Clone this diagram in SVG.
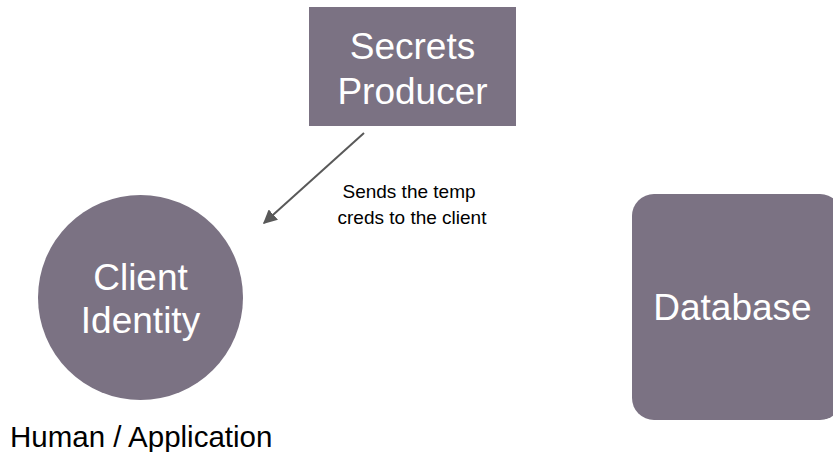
<svg xmlns="http://www.w3.org/2000/svg" width="833" height="452" viewBox="0 0 833 452">
<defs>
<style>
.node{fill:#7b7283;}
.big{font-family:"Liberation Sans",Arial,sans-serif;font-size:37px;fill:#ffffff;text-anchor:middle;}
.small{font-family:"Liberation Sans",Arial,sans-serif;font-size:19px;fill:#000000;text-anchor:middle;}
.label{font-family:"Liberation Sans",Arial,sans-serif;font-size:29.5px;fill:#000000;}
.conn{stroke:#595959;stroke-width:2;fill:none;}
</style>
<marker id="arrow" viewBox="0 0 10 10" refX="9" refY="5" markerWidth="7" markerHeight="7" markerUnits="strokeWidth" orient="auto">
<path d="M0,0 L10,5 L0,10 z" fill="#595959"/>
</marker>
</defs>
<rect width="833" height="452" fill="#ffffff"/>
<g id="secrets-producer">
<rect class="node" x="309" y="7" width="207" height="119"/>
<text class="big" x="412.5" y="59">Secrets</text>
<text class="big" x="412.5" y="104">Producer</text>
</g>
<g id="client-identity">
<circle class="node" cx="140.5" cy="297.5" r="102.5"/>
<text class="big" x="140.5" y="290">Client</text>
<text class="big" x="140.5" y="333">Identity</text>
<text class="label" x="10" y="447">Human / Application</text>
</g>
<g id="database">
<rect class="node" x="632" y="194" width="210" height="226" rx="22" ry="22"/>
<text class="big" x="732.5" y="320">Database</text>
</g>
<g id="connectors">
<line class="conn" x1="364" y1="133" x2="264" y2="223" marker-end="url(#arrow)"/>
<text class="small" x="409" y="198">Sends the temp</text>
<text class="small" x="412" y="224">creds to the client</text>
</g>
</svg>
